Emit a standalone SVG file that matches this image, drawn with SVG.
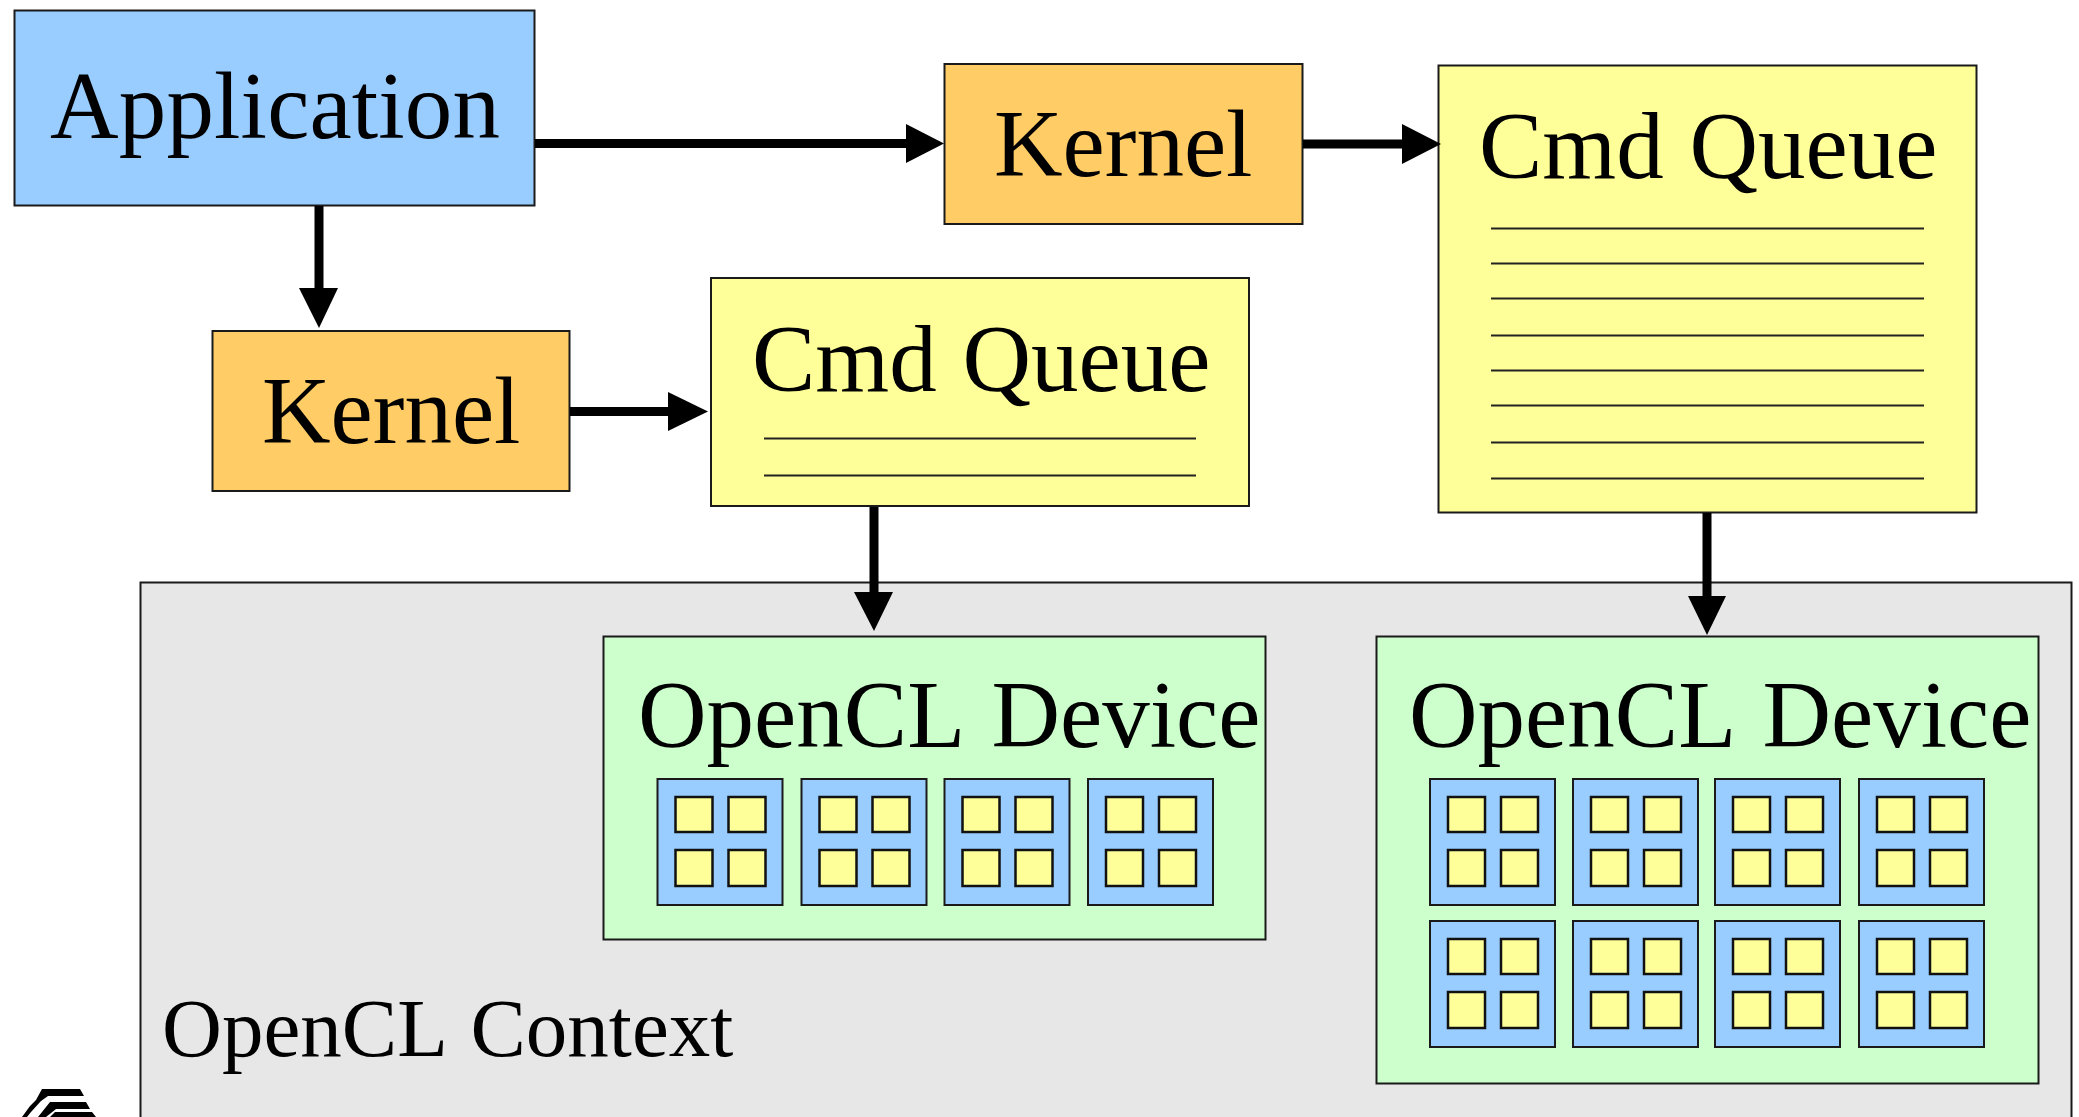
<svg xmlns="http://www.w3.org/2000/svg" width="2079" height="1117" viewBox="0 0 2079 1117">
<defs>
<style>
.box{stroke:#1a1a1a;stroke-width:2}
.t{font-family:"Liberation Serif","Times New Roman",serif;font-size:95px;fill:#000}
.w{word-spacing:6px}
.q{word-spacing:2px}
.blue{fill:#99ccff}.org{fill:#ffcc66}.yel{fill:#ffff99}.grn{fill:#ccffcc}.gry{fill:#e7e7e7}
.core{fill:#99ccff;stroke:#1a1a1a;stroke-width:2}
.cell{fill:#ffff99;stroke:#111;stroke-width:2.5}
.rule{stroke:#222;stroke-width:2}
.conn{stroke:#000;stroke-width:9;fill:none}
</style>
<g id="cu4">
<rect class="core" x="0" y="0" width="125" height="126"/>
<rect class="cell" x="18" y="18" width="37" height="35"/>
<rect class="cell" x="71" y="18" width="37" height="35"/>
<rect class="cell" x="18" y="71" width="37" height="36"/>
<rect class="cell" x="71" y="71" width="37" height="36"/>
</g>
</defs>
<rect width="2079" height="1117" fill="#fff"/>
<g id="context"><rect class="box gry" x="140.5" y="582.500" width="1931" height="545"/>
<text class="t" style="font-size:83px;word-spacing:5px" x="162" y="1056">OpenCL Context</text></g>
<g id="application"><rect class="box blue" x="14.500" y="10.500" width="520" height="195"/>
<text class="t" style="letter-spacing:.15px" x="50" y="138">Application</text></g>
<g id="kernel-1"><rect class="box org" x="944.500" y="64" width="358" height="160"/>
<text class="t" x="994" y="176">Kernel</text></g>
<g id="kernel-2"><rect class="box org" x="212.500" y="331" width="357" height="160"/>
<text class="t" x="262" y="443">Kernel</text></g>
<g id="queue-1"><rect class="box yel" x="1438.500" y="65.500" width="538" height="447"/>
<text class="t q" x="1479" y="178">Cmd Queue</text>
<path class="rule" d="M1491 228.500H1924M1491 263.500H1924M1491 298.500H1924M1491 335.500H1924M1491 370.500H1924M1491 405.500H1924M1491 442.500H1924M1491 478.500H1924"/></g>
<g id="queue-2"><rect class="box yel" x="711" y="278" width="538" height="228"/>
<text class="t q" x="752" y="391">Cmd Queue</text>
<path class="rule" d="M764 438.500H1196M764 475.500H1196"/></g>
<g id="device-1"><rect class="box grn" x="603.500" y="636.500" width="662" height="303"/>
<text class="t w" x="638" y="747">OpenCL Device</text>
<use href="#cu4" x="657.500" y="779"/><use href="#cu4" x="801.500" y="779"/><use href="#cu4" x="944.500" y="779"/><use href="#cu4" x="1088" y="779"/></g>
<g id="device-2"><rect class="box grn" x="1376.500" y="636.500" width="662" height="447"/>
<text class="t w" x="1409" y="747">OpenCL Device</text>
<use href="#cu4" x="1430" y="779"/><use href="#cu4" x="1573" y="779"/><use href="#cu4" x="1715" y="779"/><use href="#cu4" x="1859" y="779"/>
<use href="#cu4" x="1430" y="921"/><use href="#cu4" x="1573" y="921"/><use href="#cu4" x="1715" y="921"/><use href="#cu4" x="1859" y="921"/></g>
<g id="connectors">
<path class="conn" d="M319 206V290"/><path d="M299 288H338L319 328Z"/>
<path class="conn" d="M535 143.500H910"/><path d="M906 124V163L944 143.500Z"/>
<path class="conn" d="M1303 144H1405"/><path d="M1402 124V164L1441 144Z"/>
<path class="conn" d="M570 411.500H672"/><path d="M668 392V431L708 411.500Z"/>
<path class="conn" d="M874 507V596"/><path d="M854 592H893L874 631Z"/>
<path class="conn" d="M1707 513V600"/><path d="M1688 596H1726L1707 635Z"/>
</g>
<g id="logo"><path d="M42 1089H80L84 1096H48L41 1101L31 1112L27 1117H22L30 1106L36 1100ZM50 1102H86L90 1109H56L46 1117H38ZM55 1112H92L96 1117H50Z"/></g>
</svg>
